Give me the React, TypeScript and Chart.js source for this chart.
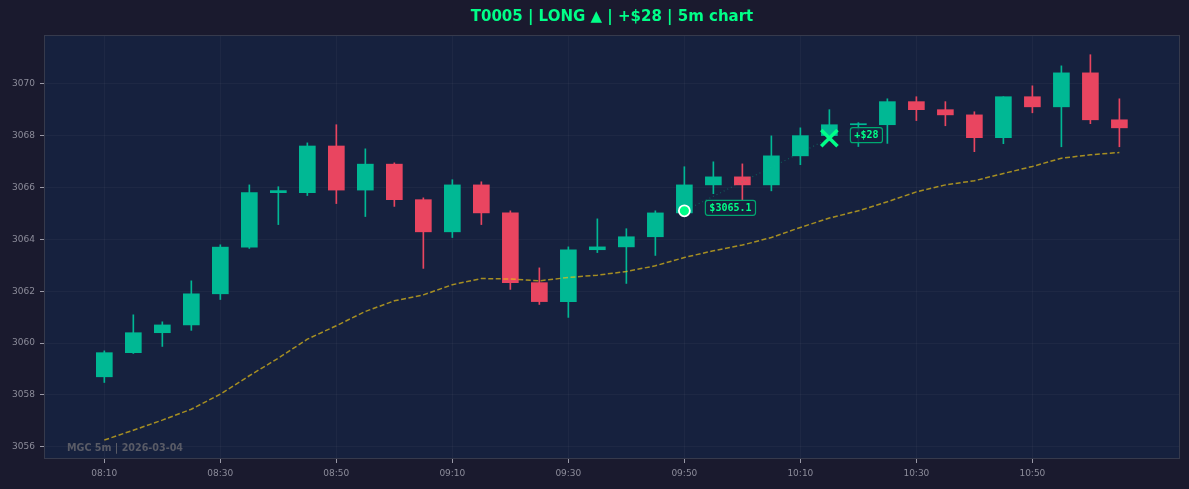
import React, { useEffect, useRef } from "react";
import { Chart, registerables } from "chart.js";

Chart.register(...registerables);

// ---------- data ----------
const times = [
  "08:10", "08:15", "08:20", "08:25", "08:30", "08:35", "08:40", "08:45", "08:50",
  "08:55", "09:00", "09:05", "09:10", "09:15", "09:20", "09:25", "09:30", "09:35",
  "09:40", "09:45", "09:50", "09:55", "10:00", "10:05", "10:10", "10:15", "10:20",
  "10:25", "10:30", "10:35", "10:40", "10:45", "10:50", "10:55", "11:00", "11:05",
];
const opens = [
  3058.7, 3059.63, 3060.4, 3060.7, 3061.9, 3063.7, 3065.8, 3065.8, 3067.6, 3065.9,
  3066.9, 3065.53, 3064.29, 3066.1, 3065.02, 3062.33, 3061.6, 3063.6, 3063.71, 3064.1,
  3065.02, 3066.1, 3066.41, 3066.1, 3067.22, 3068.0, 3068.42, 3068.42, 3069.31, 3069.0,
  3068.8, 3067.92, 3069.5, 3069.11, 3070.42, 3068.61,
];
const closes = [
  3059.63, 3060.4, 3060.7, 3061.9, 3063.7, 3065.8, 3065.88, 3067.6, 3065.9, 3066.9,
  3065.53, 3064.29, 3066.1, 3065.02, 3062.33, 3061.6, 3063.6, 3063.71, 3064.1, 3065.02,
  3066.1, 3066.41, 3066.1, 3067.22, 3068.0, 3068.42, 3068.46, 3069.31, 3069.0, 3068.8,
  3067.92, 3069.5, 3069.11, 3070.42, 3068.61, 3068.3,
];
const highs = [
  3059.7, 3061.09, 3060.82, 3062.4, 3063.79, 3066.1, 3066.03, 3067.72, 3068.42, 3067.49,
  3066.95, 3065.6, 3066.3, 3066.22, 3065.1, 3062.9, 3063.71, 3064.79, 3064.41, 3065.1,
  3066.8, 3066.99, 3066.91, 3067.99, 3068.3, 3069.0, 3068.5, 3069.42, 3069.5, 3069.31,
  3068.92, 3069.5, 3069.92, 3070.69, 3071.12, 3069.42,
];
const lows = [
  3058.48, 3059.6, 3059.87, 3060.49, 3061.68, 3063.65, 3064.57, 3065.69, 3065.38, 3064.88,
  3065.27, 3062.88, 3064.07, 3064.57, 3062.07, 3061.49, 3060.99, 3063.49, 3062.3, 3063.38,
  3065.0, 3065.76, 3065.49, 3065.87, 3066.88, 3067.8, 3067.58, 3067.7, 3068.58, 3068.38,
  3067.38, 3067.69, 3068.88, 3067.57, 3068.46, 3067.57,
];
const maValues = [
  3056.26, 3056.64, 3057.03, 3057.45, 3058.03, 3058.74, 3059.42, 3060.15, 3060.67, 3061.22,
  3061.63, 3061.86, 3062.25, 3062.49, 3062.47, 3062.4, 3062.53, 3062.62, 3062.76, 3062.98,
  3063.3, 3063.56, 3063.78, 3064.07, 3064.46, 3064.82, 3065.1, 3065.45, 3065.83, 3066.1,
  3066.26, 3066.54, 3066.81, 3067.13, 3067.26, 3067.35,
];
const entryIndex = 20;
const entryPrice = 3065.1;
const exitIndex = 25;
const exitPrice = 3067.9;
const pnlText = "+$28";
const yTickValues = [3056, 3058, 3060, 3062, 3064, 3066, 3068, 3070];
const xTickIndices = [0, 4, 8, 12, 16, 20, 24, 28, 32];
const titleText = "T0005 | LONG ▲ | +$28 | 5m chart";
const watermarkText = "MGC 5m | 2026-03-04";

// ---------- style ----------
const FIG_BG = "#1a1a2e";
const AX_BG = "#16213e";
const GREEN = "#00b894";
const RED = "#e94560";
const BRIGHT = "#00ff88";
const TICK_COLOR = "#8c8c9a";
const FONT = "'DejaVu Sans', sans-serif";
const MONO = "'DejaVu Sans Mono', monospace";

const candleColors = opens.map((o, i) => (closes[i] >= o ? GREEN : RED));

const decorPlugin = {
  id: "decor",
  beforeDraw(chart: any) {
    const { ctx, chartArea } = chart;
    ctx.save();
    ctx.fillStyle = FIG_BG;
    ctx.fillRect(0, 0, chart.width, chart.height);
    ctx.fillStyle = AX_BG;
    ctx.fillRect(chartArea.left, chartArea.top, chartArea.right - chartArea.left, chartArea.bottom - chartArea.top);
    ctx.restore();
  },
  afterDatasetsDraw(chart: any) {
    const { ctx, chartArea, scales } = chart;
    ctx.save();
    // border
    ctx.strokeStyle = "#363a4c";
    ctx.lineWidth = 1;
    ctx.strokeRect(chartArea.left + 0.5, chartArea.top + 0.5, chartArea.right - chartArea.left - 1, chartArea.bottom - chartArea.top - 1);

    // title
    ctx.fillStyle = BRIGHT;
    ctx.font = `bold 15px ${FONT}`;
    ctx.textAlign = "center";
    ctx.textBaseline = "middle";
    ctx.fillText(titleText, (chartArea.left + chartArea.right) / 2, 17);

    // watermark
    ctx.fillStyle = "#595b66";
    ctx.font = `bold 9.6px ${FONT}`;
    ctx.textAlign = "left";
    ctx.fillText(watermarkText, chartArea.left + 23, chartArea.bottom - 11);

    // labels
    const drawLabel = (idx: number, price: number, text: string) => {
      const px = scales.x.getPixelForValue(idx);
      const py = scales.y.getPixelForValue(price);
      ctx.font = `bold 10px ${MONO}`;
      const w = ctx.measureText(text).width + 8;
      const h = 15;
      const x0 = px + 21;
      const y0 = py - 3 - h / 2;
      ctx.beginPath();
      const r = 2.5;
      ctx.moveTo(x0 + r, y0);
      ctx.lineTo(x0 + w - r, y0);
      ctx.quadraticCurveTo(x0 + w, y0, x0 + w, y0 + r);
      ctx.lineTo(x0 + w, y0 + h - r);
      ctx.quadraticCurveTo(x0 + w, y0 + h, x0 + w - r, y0 + h);
      ctx.lineTo(x0 + r, y0 + h);
      ctx.quadraticCurveTo(x0, y0 + h, x0, y0 + h - r);
      ctx.lineTo(x0, y0 + r);
      ctx.quadraticCurveTo(x0, y0, x0 + r, y0);
      ctx.closePath();
      ctx.fillStyle = "rgba(22,33,62,0.85)";
      ctx.fill();
      ctx.strokeStyle = "#00a870";
      ctx.lineWidth = 1.2;
      ctx.stroke();
      ctx.fillStyle = BRIGHT;
      ctx.textAlign = "left";
      ctx.textBaseline = "middle";
      ctx.fillText(text, x0 + 4, y0 + h / 2 + 0.5);
    };
    drawLabel(entryIndex, entryPrice, "$" + entryPrice.toFixed(1));
    drawLabel(exitIndex, exitPrice, pnlText);
    ctx.restore();
  },
};

export default function App() {
  const ref = useRef<HTMLCanvasElement>(null);

  useEffect(() => {
    document.body.style.margin = "0";
    document.body.style.background = FIG_BG;
    const canvas = ref.current;
    if (!canvas) return;

    const bodies = opens.map((o, i) => ({ x: i, y: [o, closes[i]] }));
    const wicks = lows.map((l, i) => ({ x: i, y: [l, highs[i]] }));
    const ma = maValues.map((v, i) => ({ x: i, y: v }));

    const chart = new Chart(canvas, {
      type: "bar",
      data: {
        datasets: [
          {
            type: "bar",
            data: wicks as any,
            backgroundColor: candleColors,
            barThickness: 1,
            grouped: false,
            order: 5,
          } as any,
          {
            type: "bar",
            data: bodies as any,
            backgroundColor: candleColors,
            barThickness: 16,
            minBarLength: 1,
            grouped: false,
            order: 4,
          } as any,
          {
            type: "line",
            data: ma,
            borderColor: "rgba(235,195,20,0.68)",
            borderWidth: 1.5,
            borderDash: [5, 2.5],
            pointRadius: 0,
            tension: 0,
            order: 3,
          } as any,
          {
            type: "line",
            data: [
              { x: entryIndex, y: entryPrice },
              { x: exitIndex, y: exitPrice },
            ],
            borderColor: "rgba(0,200,140,0.35)",
            borderWidth: 1.2,
            borderDash: [1, 3],
            pointRadius: 0,
            order: 2,
          } as any,
          {
            type: "scatter",
            data: [{ x: entryIndex, y: entryPrice }],
            pointStyle: "circle",
            pointRadius: 5.5,
            backgroundColor: BRIGHT,
            borderColor: "#ffffff",
            borderWidth: 1.8,
            order: 1,
          } as any,
          {
            type: "scatter",
            data: [{ x: exitIndex, y: exitPrice }],
            pointStyle: "crossRot",
            pointRadius: 11.5,
            borderColor: BRIGHT,
            borderWidth: 3.5,
            order: 0,
          } as any,
        ],
      },
      options: {
        animation: false,
        responsive: false,
        layout: { autoPadding: false, padding: { left: 0, right: 9, top: 35, bottom: 0 } },
        plugins: {
          legend: { display: false },
          tooltip: { enabled: false },
          title: { display: false },
        },
        scales: {
          x: {
            type: "linear",
            min: -2.08,
            max: 37.09,
            offset: false,
            grid: {
              offset: false,
              color: "rgba(255,255,255,0.035)",
              tickColor: "#9a9aa8",
              tickLength: 4,
              drawTicks: true,
            },
            border: { display: false },
            ticks: {
              color: TICK_COLOR,
              font: { family: FONT, size: 9 },
              padding: 5,
              maxRotation: 0,
              autoSkip: false,
              callback: (v: any) => times[Math.round(Number(v))] ?? "",
            },
            afterBuildTicks: (scale: any) => {
              scale.ticks = xTickIndices.map((v) => ({ value: v }));
            },
            afterFit: (scale: any) => {
              scale.height = 30;
            },
          } as any,
          y: {
            type: "linear",
            min: 3055.53,
            max: 3071.88,
            beginAtZero: false,
            grid: {
              color: "rgba(255,255,255,0.035)",
              tickColor: "#9a9aa8",
              tickLength: 4,
            },
            border: { display: false },
            ticks: {
              color: TICK_COLOR,
              font: { family: FONT, size: 9 },
              padding: 5,
              callback: (v: any) => String(v),
            },
            afterBuildTicks: (scale: any) => {
              scale.ticks = yTickValues.map((v) => ({ value: v }));
            },
            afterFit: (scale: any) => {
              scale.width = 44;
            },
          } as any,
        },
      } as any,
      plugins: [decorPlugin],
    });

    return () => chart.destroy();
  }, []);

  return (
    <div style={{ position: "fixed", left: 0, top: 0, width: 1189, height: 489, background: FIG_BG }}>
      <canvas ref={ref} width={1189} height={489} style={{ width: 1189, height: 489, display: "block" }} />
    </div>
  );
}
